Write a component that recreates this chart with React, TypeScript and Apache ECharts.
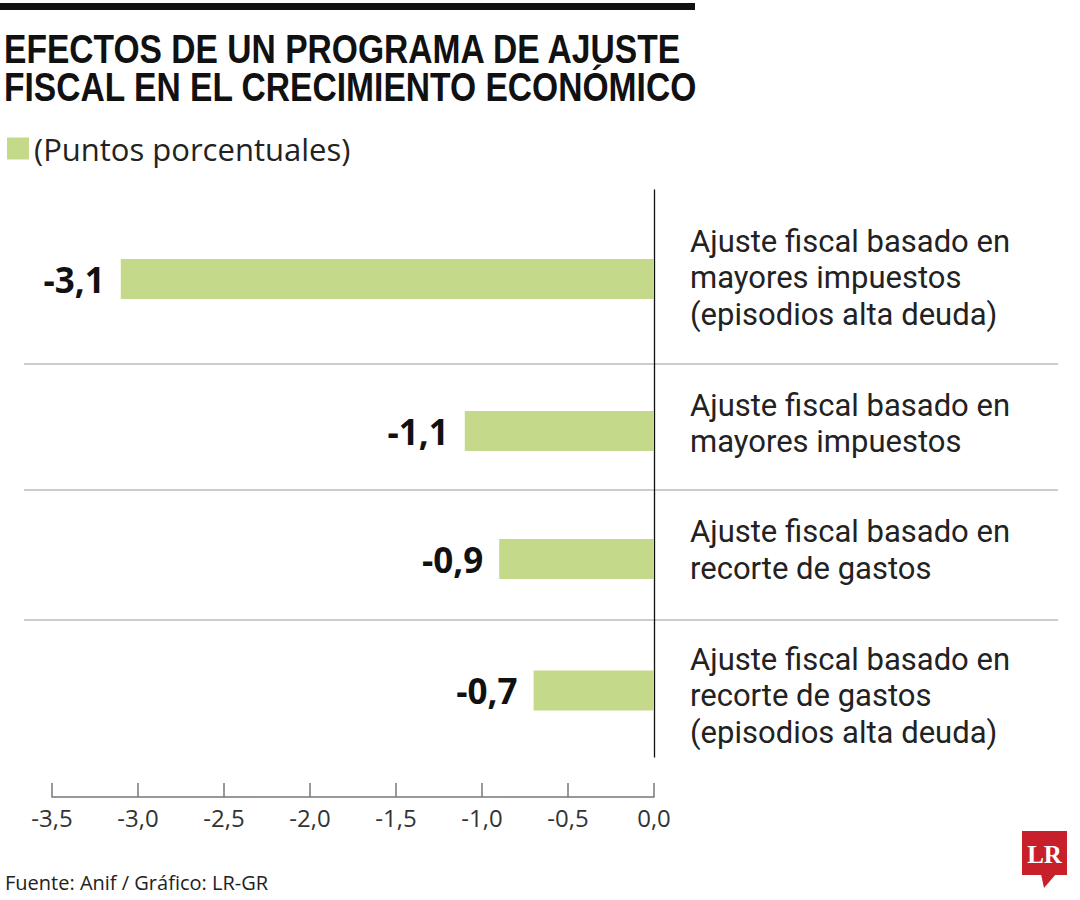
import { useEffect, useRef } from "react";
import * as echarts from "echarts";

const categories = [
  "Ajuste fiscal basado en\nmayores impuestos\n(episodios alta deuda)",
  "Ajuste fiscal basado en\nmayores impuestos",
  "Ajuste fiscal basado en\nrecorte de gastos",
  "Ajuste fiscal basado en\nrecorte de gastos\n(episodios alta deuda)",
];
const values = [-3.1, -1.1, -0.9, -0.7];
const seriesName = "(Puntos porcentuales)";

// band edges for each row (row heights differ in the reference)
const bandEdges = [190, 368, 494, 624, 757];
// extra blank space above (+) / below (-) each category label, to nudge it
const labelNudge = [-3, -15, -18, 10];

const GREEN = "#c5d98a";
const TEXT = "#222";
const LABEL_FONT = "'Open Sans', sans-serif";
const CAT_FONT = "Roboto, 'Open Sans', sans-serif";

function App() {
  const chartRef = useRef<HTMLDivElement>(null);

  useEffect(() => {
    const chart = echarts.init(chartRef.current, null, { renderer: "svg" });

    const grids = categories.map((_, i) => ({
      left: 52,
      width: 602,
      top: bandEdges[i],
      height: bandEdges[i + 1] - bandEdges[i],
    }));

    const last = categories.length - 1;

    const xAxes = categories.map((_, i) => ({
      type: "value",
      gridIndex: i,
      min: -3.5,
      max: 0,
      interval: 0.5,
      show: i === last,
      offset: 40,
      splitLine: { show: false },
      axisLine: { show: true, lineStyle: { color: "#777", width: 1.5 } },
      axisTick: { show: true, inside: true, length: 14, lineStyle: { color: "#777", width: 1.5 } },
      axisLabel: {
        margin: 8,
        fontSize: 24,
        color: "#333",
        fontFamily: LABEL_FONT,
        formatter: (v: number) => v.toFixed(1).replace(".", ","),
      },
    }));

    const yAxes = categories.map((c, i) => ({
      type: "category",
      gridIndex: i,
      data: [c],
      position: "right",
      axisLine: { show: true, onZero: false, lineStyle: { color: "#111", width: 1.3 } },
      axisTick: { show: false },
      splitLine: { show: false },
      axisLabel: {
        margin: 36,
        align: "left",
        formatter: (v: string) => {
          const body = v
            .split("\n")
            .map((line) => `{t|${line}}`)
            .join("\n");
          const n = labelNudge[i];
          if (n > 0) return `{pad| }\n` + body;
          if (n < 0) return body + `\n{pad| }`;
          return body;
        },
        rich: {
          t: {
            fontSize: 31,
            lineHeight: 36.5,
            color: TEXT,
            fontFamily: CAT_FONT,
          },
          pad: {
            fontSize: 1,
            lineHeight: Math.abs(labelNudge[i]),
            height: Math.abs(labelNudge[i]),
          },
        },
      },
    }));

    const series = values.map((v, i) => ({
      name: seriesName,
      type: "bar",
      xAxisIndex: i,
      yAxisIndex: i,
      data: [v],
      barWidth: 40,
      itemStyle: { color: GREEN },
      label: {
        show: true,
        position: "left",
        distance: 16,
        fontSize: 35,
        fontWeight: "bold",
        color: "#111",
        fontFamily: LABEL_FONT,
        formatter: (p: any) => p.value.toFixed(1).replace(".", ","),
      },
    }));

    const separators = [1, 2, 3].map((i) => ({
      type: "line",
      shape: { x1: 24, y1: bandEdges[i] - 4, x2: 1058, y2: bandEdges[i] - 4 },
      style: { stroke: "#bbb", lineWidth: 1.5 },
      z: 0,
    }));

    const option = {
      animation: false,
      backgroundColor: "#fff",
      legend: {
        left: 2,
        top: 128,
        icon: "rect",
        itemWidth: 22,
        itemHeight: 22,
        data: [seriesName],
        textStyle: { fontSize: 31, color: TEXT, fontFamily: LABEL_FONT },
      },
      grid: grids,
      xAxis: xAxes,
      yAxis: yAxes,
      series,
      graphic: [
        {
          type: "rect",
          shape: { x: 0, y: 3, width: 695, height: 7 },
          style: { fill: "#111" },
        },
        {
          type: "text",
          x: 4,
          y: 30,
          scaleX: 0.84,
          style: {
            text: "EFECTOS DE UN PROGRAMA DE AJUSTE\nFISCAL EN EL CRECIMIENTO ECONÓMICO",
            fontFamily: "'Liberation Sans', Arial, sans-serif",
            fontWeight: "bold",
            fontSize: 40,
            lineHeight: 38,
            fill: "#111",
          },
        },
        ...separators,
        {
          type: "text",
          x: 5,
          y: 882,
          style: {
            text: "Fuente: Anif / Gráfico: LR-GR",
            fontSize: 20,
            fontFamily: LABEL_FONT,
            fill: TEXT,
            verticalAlign: "middle",
          },
        },
        {
          type: "group",
          x: 1022,
          y: 831,
          children: [
            { type: "rect", shape: { x: 0, y: 0, width: 45, height: 44 }, style: { fill: "#c8202a" } },
            { type: "polygon", shape: { points: [[19, 43], [34, 43], [22, 57]] }, style: { fill: "#c8202a" } },
            {
              type: "text",
              x: 22.5,
              y: 23,
              style: {
                text: "LR",
                fontSize: 25,
                fontWeight: "bold",
                fontFamily: "'Liberation Serif', serif",
                fill: "#fff",
                align: "center",
                verticalAlign: "middle",
              },
            },
          ],
        },
      ],
    };

    chart.setOption(option as any);

    return () => {
      chart.dispose();
    };
  }, []);

  return (
    <div
      ref={chartRef}
      style={{ position: "fixed", left: 0, top: 0, width: 1080, height: 900 }}
    />
  );
}

export default App;
